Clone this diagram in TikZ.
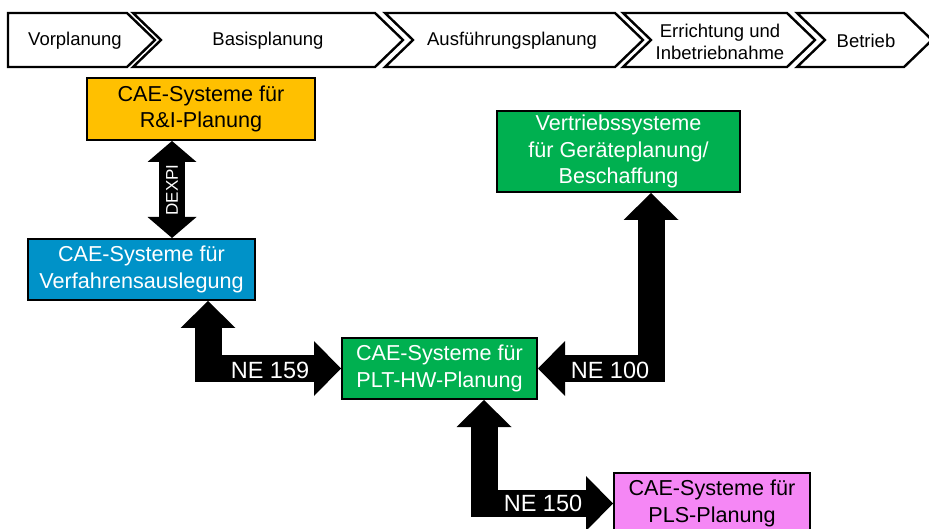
\documentclass[tikz,border=0pt]{standalone}
\usepackage{fontspec}
\setmainfont{Liberation Sans}
\usetikzlibrary{arrows.meta}
\definecolor{riorange}{RGB}{255,192,0}
\definecolor{verfblue}{RGB}{0,146,200}
\definecolor{pltgreen}{RGB}{0,176,80}
\definecolor{plspink}{RGB}{245,135,245}

\begin{document}
\begin{tikzpicture}[x=1pt,y=-1pt,
    phase/.style={draw,line width=2.4pt,line join=miter},
    phasetext/.style={inner sep=0pt,align=center,font=\fontsize{18.5}{22}\selectfont},
    sysbox/.style={draw,line width=2pt,inner sep=0pt,align=center,font=\fontsize{21.6}{26.5}\selectfont},
    fatarrow/.style={line width=27pt,{Triangle[width=55pt,length=27pt,line width=0pt]}-{Triangle[width=55pt,length=27pt,line width=0pt]}},
    arrowlabel/.style={white,inner sep=0pt,font=\fontsize{23.5}{28}\selectfont}]
        \useasboundingbox (0,0) rectangle (929,529);
        \clip (0,0) rectangle (929,529);
        % project phases
        \draw[phase] (8,13) -- (127,13) -- (155,40) -- (127,67) -- (8,67) -- cycle;
        \foreach \l/\r in {133/375, 385/615, 623/787, 797/904}
            \draw[phase] (\l,13) -- (\r,13) -- (\r+28,40) -- (\r,67) -- (\l,67) -- (\l+28,40) -- cycle;
        \node[phasetext] (vorpl) at (75,41) {Vorplanung};
        \node[phasetext] (basis) at (268,41) {Basisplanung};
        \node[phasetext] (ausf) at (512,41) {Ausführungsplanung};
        \node[phasetext] (erricht) at (720,42) {Errichtung und\\Inbetriebnahme};
        \node[phasetext] (betrieb) at (866,41) {Betrieb};
        % systems
        \node[sysbox,fill=riorange,minimum width=228pt,minimum height=62pt] (ri) at (201,109) {CAE-Systeme für\\R\&I-Planung};
        \node[sysbox,fill=verfblue,text=white,minimum width=227pt,minimum height=61pt] (verf) at (141.5,269.5) {CAE-Systeme für\\Verfahrensauslegung};
        \node[sysbox,fill=pltgreen,text=white,minimum width=195pt,minimum height=61pt] (plt) at (439.5,368.5) {CAE-Systeme für\\PLT-HW-Planung};
        \node[sysbox,fill=pltgreen,text=white,minimum width=243pt,minimum height=81pt] (vert) at (618.5,151.5) {Vertriebssysteme\\für Geräteplanung/\\Beschaffung};
        \node[sysbox,fill=plspink,minimum width=196pt,minimum height=61pt] (pls) at (712,503.5) {CAE-Systeme für\\PLS-Planung};
        % interfaces
        \coordinate (kdexpi) at (172,190);
        \coordinate (k159) at (208,372);
        \coordinate (k100) at (651,370);
        \coordinate (k150) at (484,502);
        \draw[line width=26pt,{Triangle[width=49pt,length=21pt,line width=0pt]}-{Triangle[width=49pt,length=21pt,line width=0pt]}] (ri.south -| kdexpi) -- (verf.north -| kdexpi);
        \draw[fatarrow] (verf.south -| k159) |- (plt.west);
        \draw[fatarrow] (plt.east) -| (vert.south -| k100);
        \draw[fatarrow] (plt.south -| k150) |- (pls.west);
        \node[arrowlabel,font=\fontsize{17}{20}\selectfont,rotate=90] (dexpi) at (kdexpi) {DEXPI};
        \node[arrowlabel] (ne159) at (270,370) {NE 159};
        \node[arrowlabel] (ne100) at (610,370) {NE 100};
        \node[arrowlabel] (ne150) at (543,503) {NE 150};
    \end{tikzpicture}
\end{document}
